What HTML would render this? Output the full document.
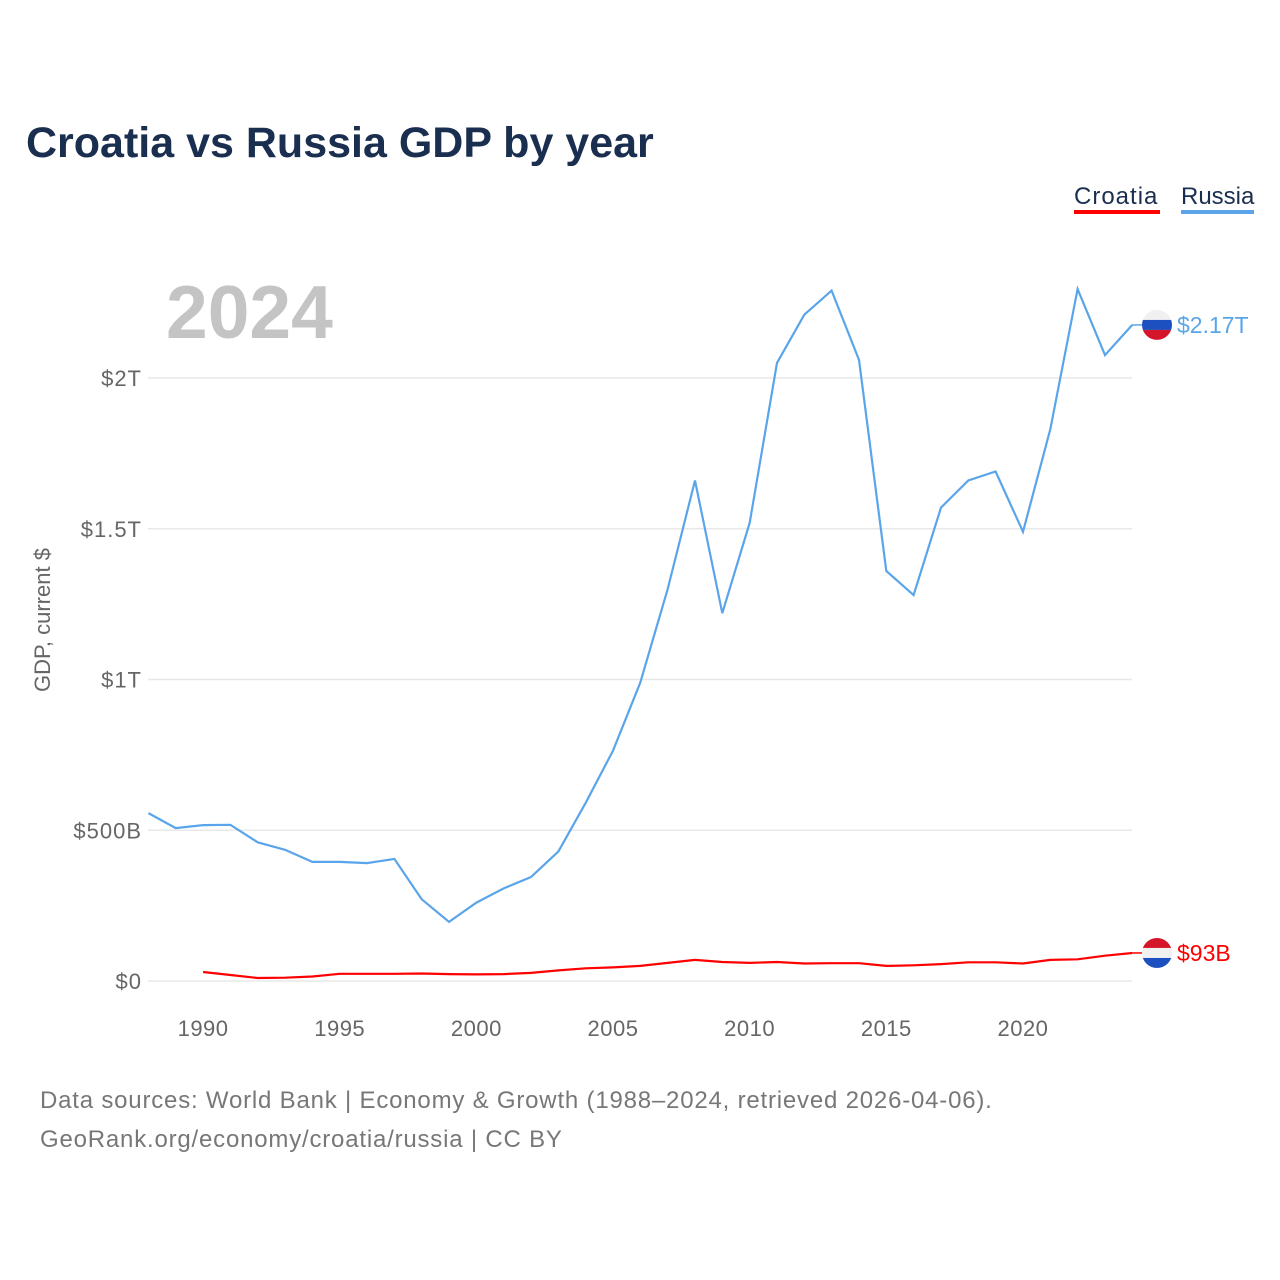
<!DOCTYPE html>
<html><head><meta charset="utf-8">
<style>
body{margin:0;background:#fff;font-family:"Liberation Sans",sans-serif;}
svg{display:block}
</style></head>
<body>
<svg width="1280" height="1280" viewBox="0 0 1280 1280">
<text x="26" y="157" font-size="43" font-weight="bold" fill="#1a2e4f">Croatia vs Russia GDP by year</text>
<g>
<text x="1074" y="204" font-size="24" fill="#1a2e4f" letter-spacing="1">Croatia</text>
<rect x="1074" y="210" width="86" height="4" fill="#ff0000"/>
<text x="1181" y="204" font-size="24" fill="#1a2e4f">Russia</text>
<rect x="1181" y="210" width="73" height="4" fill="#5aa5ea"/>
</g>
<text x="166" y="338" font-size="75" font-weight="bold" fill="#c4c4c4">2024</text>
<text transform="translate(50,620) rotate(-90)" text-anchor="middle" font-size="22" fill="#666">GDP, current $</text>
<g id="grid"></g><g id="yt"></g><g id="xt"></g><g id="lines"></g>
<text x="40" y="1108" font-size="24" fill="#777" letter-spacing="0.8">Data sources: World Bank | Economy &amp; Growth (1988–2024, retrieved 2026-04-06).</text>
<text x="40" y="1147" font-size="24" fill="#777" letter-spacing="0.8">GeoRank.org/economy/croatia/russia | CC BY</text>
</svg>
<script>
const years=[];for(let y=1988;y<=2024;y++)years.push(y);
const russia=[0.557,0.507,0.517,0.518,0.460,0.435,0.395,0.395,0.391,0.405,0.271,0.196,0.260,0.307,0.345,0.430,0.591,0.764,0.990,1.30,1.66,1.22,1.52,2.05,2.21,2.29,2.06,1.36,1.28,1.57,1.66,1.69,1.49,1.83,2.295,2.076,2.176];
const croatia=[null,null,0.030,0.020,0.010,0.011,0.015,0.024,0.024,0.024,0.025,0.023,0.022,0.023,0.027,0.035,0.042,0.045,0.050,0.060,0.070,0.063,0.060,0.063,0.058,0.059,0.059,0.050,0.052,0.056,0.062,0.062,0.058,0.070,0.072,0.084,0.093];
const yTicks=[0,0.5,1,1.5,2];
const yTickLabels=["$0","$500B","$1T","$1.5T","$2T"];
const xTicks=[1990,1995,2000,2005,2010,2015,2020];
const NS="http://www.w3.org/2000/svg";
const X=y=>148.4+(y-1988)*27.33;
const Y=v=>981-v*301.5;
function mk(t,a,p){const e=document.createElementNS(NS,t);for(const k in a)e.setAttribute(k,a[k]);p.appendChild(e);return e;}
const grid=document.getElementById('grid'),yt=document.getElementById('yt'),xt=document.getElementById('xt'),lines=document.getElementById('lines');
yTicks.forEach((v,i)=>{
 const l=mk('line',{x1:148,x2:1132,y1:Y(v),y2:Y(v),stroke:'#e8e8e8','stroke-width':1.5},grid);
 
 
 const t=mk('text',{x:142,y:Y(v)+8,'text-anchor':'end','font-size':22,fill:'#666','letter-spacing':1},yt);
 t.textContent=yTickLabels[i];
 
 
});
xTicks.forEach(v=>{
 const t=mk('text',{x:X(v),y:1036,'text-anchor':'middle','font-size':22,fill:'#666','letter-spacing':0.5},xt);
 t.textContent=v;
 
 
});
function path(arr){let d='';arr.forEach((v,i)=>{if(v==null)return;d+=(d?'L':'M')+X(years[i]).toFixed(1)+','+Y(v).toFixed(1);});return d;}
const pr=mk('path',{d:path(russia),fill:'none',stroke:'#5aa5ea','stroke-width':2.2},lines);


const pc=mk('path',{d:path(croatia),fill:'none',stroke:'#ff0000','stroke-width':2.2},lines);


function endLabel(v,col,txt,name,stripes){
 const cy=Y(v),cx=1157;
 mk('line',{x1:X(2024),x2:cx-15,y1:cy,y2:cy,stroke:col,'stroke-width':1.5},lines);
 const g=mk('g',{},lines);
 
 
 const cp=mk('clipPath',{id:'c'+name},g);mk('circle',{cx:cx,cy:cy,r:15},cp);
 stripes.forEach((c,i)=>mk('rect',{x:cx-15,y:cy-15+i*10,width:30,height:10,fill:c,'clip-path':'url(#c'+name+')'},g));
 const t=mk('text',{x:1177,y:cy+8,'font-size':23,fill:col},lines);
 t.textContent=txt;
 
 
}
endLabel(russia[russia.length-1],'#5aa5ea','$2.17T','russia',['#f0f0f0','#1c4fbf','#d5152a']);
endLabel(croatia[croatia.length-1],'#ff0000','$93B','croatia',['#d5152a','#f0f0f0','#1c4fbf']);
</script>
</body></html>
